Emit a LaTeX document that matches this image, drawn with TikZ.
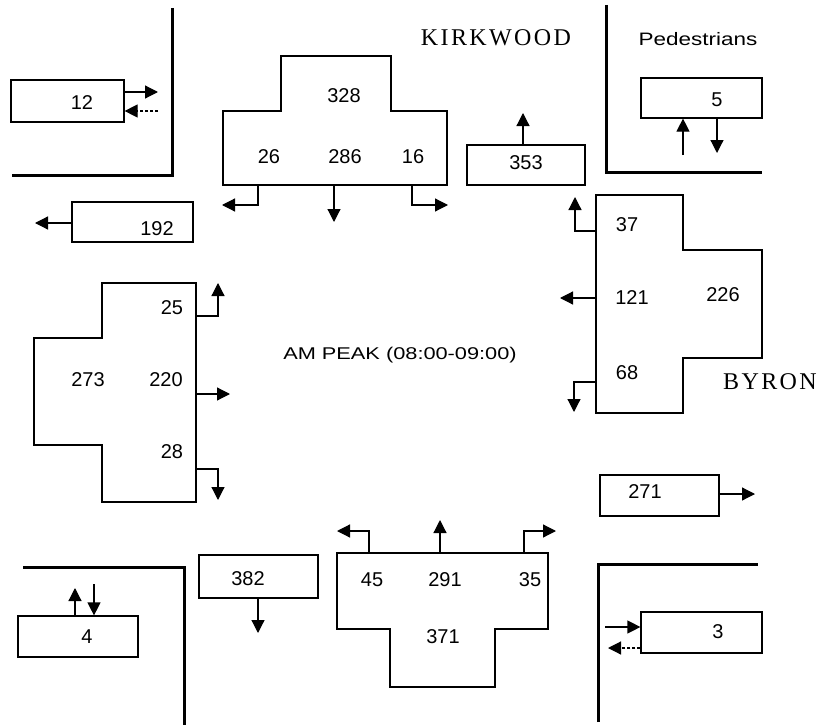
\documentclass[tikz,border=0pt]{standalone}
\usepackage{fontspec}
\usepackage{graphicx}
\setmainfont{Liberation Sans}
\newfontfamily\roadfont[LetterSpace=10]{Liberation Serif}
\usetikzlibrary{arrows.meta}

\begin{document}
\begin{tikzpicture}[
  x=1pt, y=-1pt,
  wall/.style={line width=3pt},
  volbox/.style={draw, line width=1.2pt, inner sep=0pt},
  approach/.style={draw, line width=1.2pt},
  num/.style={font=\fontsize{20}{24}\selectfont},
  road/.style={font=\roadfont\fontsize{24}{28}\selectfont, inner sep=0pt},
  flow/.style={-{Triangle[length=13pt, width=13pt]}, line width=1.2pt},
  back/.style={flow, densely dashed}
]
\useasboundingbox (0,0) rectangle (817,725);

% Corner kerbs
\draw[wall] (172,8) -- (172,175) -- (12,175);
\draw[wall] (606,5) -- (606,172) -- (762,172);
\draw[wall] (23,567) -- (184,567) -- (184,725);
\draw[wall] (598,722) -- (598,564) -- (758,564);

% Approach shapes (N, E, W, S)
\draw[approach] (281,56) -- (391,56) -- (391,111) -- (447,111) -- (447,185)
  -- (223,185) -- (223,111) -- (281,111) -- cycle;
\draw[approach] (596,195) -- (683,195) -- (683,250) -- (762,250) -- (762,358)
  -- (683,358) -- (683,413) -- (596,413) -- cycle;
\draw[approach] (102,283) -- (196,283) -- (196,502) -- (102,502) -- (102,445)
  -- (34,445) -- (34,338) -- (102,338) -- cycle;
\draw[approach] (337,553) -- (548,553) -- (548,629) -- (495,629) -- (495,687)
  -- (390,687) -- (390,629) -- (337,629) -- cycle;

% Exit and pedestrian boxes
\node[volbox, minimum width=113pt, minimum height=42pt] (b12) at (67.5,101) {};
\node[volbox, minimum width=121pt, minimum height=40pt] (b192) at (132.5,222) {};
\node[volbox, minimum width=118pt, minimum height=40pt] (b353) at (526,165) {};
\node[volbox, minimum width=121pt, minimum height=40pt] (b5) at (701.5,98) {};
\node[volbox, minimum width=119pt, minimum height=41pt] (b271) at (659.5,495.5) {};
\node[volbox, minimum width=121pt, minimum height=41pt] (b3) at (701.5,632.5) {};
\node[volbox, minimum width=119pt, minimum height=43pt] (b382) at (258.5,576.5) {};
\node[volbox, minimum width=120pt, minimum height=41pt] (b4) at (78,636.5) {};

% Counts
\foreach \x/\y/\t in {
  82/103/12, 157/229/192, 526/163/353, 717/100/5, 645/492/271, 718/632/3,
  248/579/382, 87/637/4,
  344/96/328, 269/157/26, 345/157/286, 413/157/16,
  627/225/37, 632/298/121, 723/295/226, 627/373/68,
  172/308/25, 88/380/273, 166/380/220, 172/452/28,
  372/580/45, 445/580/291, 530/580/35, 443/637/371
}{
  \node[num] (l\t) at (\x,\y) {\t};
}

% Street names and titles
\node[road] (kirk) at (496,38) {KIRKWOOD};
\node[road, anchor=west] (byron) at (723,382) {BYRON};
\node[font=\fontsize{18}{22}\selectfont] (ped) at (698,39)
  {\scalebox{1.25}[1]{Pedestrians}};
\node[font=\fontsize{17}{20}\selectfont] (peak) at (400,355)
  {\scalebox{1.28}[1]{AM PEAK (08:00-09:00)}};

% Box arrows
\coordinate (f12o) at (158,92);
\coordinate (f12i) at (158,111);
\draw[flow] (b12.east |- f12o) -- (f12o);
\draw[back] (f12i) -- (b12.east |- f12i);
\coordinate (f192) at (35,223);
\draw[flow] (b192.west |- f192) -- (f192);
\coordinate (f353) at (523,113);
\draw[flow] (b353.north -| f353) -- (f353);
\coordinate (f5u) at (683,155);
\coordinate (f5d) at (717,153);
\draw[flow] (f5u) -- (b5.south -| f5u);
\draw[flow] (b5.south -| f5d) -- (f5d);
\coordinate (f271) at (755,494);
\draw[flow] (b271.east |- f271) -- (f271);
\coordinate (f3i) at (605,627);
\coordinate (f3o) at (608,648);
\draw[flow] (f3i) -- (b3.west |- f3i);
\draw[back] (b3.west |- f3o) -- (f3o);
\coordinate (f382) at (258,633);
\draw[flow] (b382.south -| f382) -- (f382);
\coordinate (f4u) at (75,588);
\coordinate (f4d) at (94,584);
\draw[flow] (b4.north -| f4u) -- (f4u);
\draw[flow] (f4d) -- (b4.north -| f4d);

% Turning movements
\coordinate (n26) at (258,185);  \coordinate (n26e) at (222,205);
\coordinate (n286) at (334,185); \coordinate (n286e) at (334,222);
\coordinate (n16) at (412,185);  \coordinate (n16e) at (448,205);
\draw[flow] (n26) |- (n26e);
\draw[flow] (n286) -- (n286e);
\draw[flow] (n16) |- (n16e);

\coordinate (e37) at (596,231);  \coordinate (e37e) at (575,197);
\coordinate (e121) at (596,298); \coordinate (e121e) at (560,298);
\coordinate (e68) at (596,382);  \coordinate (e68e) at (574,412);
\draw[flow] (e37) -| (e37e);
\draw[flow] (e121) -- (e121e);
\draw[flow] (e68) -| (e68e);

\coordinate (w25) at (196,316);  \coordinate (w25e) at (218,283);
\coordinate (w220) at (196,394); \coordinate (w220e) at (230,394);
\coordinate (w28) at (196,469);  \coordinate (w28e) at (218,500);
\draw[flow] (w25) -| (w25e);
\draw[flow] (w220) -- (w220e);
\draw[flow] (w28) -| (w28e);

\coordinate (s45) at (369,553);  \coordinate (s45e) at (337,531);
\coordinate (s291) at (440,553); \coordinate (s291e) at (440,520);
\coordinate (s35) at (524,553);  \coordinate (s35e) at (556,531);
\draw[flow] (s45) |- (s45e);
\draw[flow] (s291) -- (s291e);
\draw[flow] (s35) |- (s35e);

\end{tikzpicture}
\end{document}
